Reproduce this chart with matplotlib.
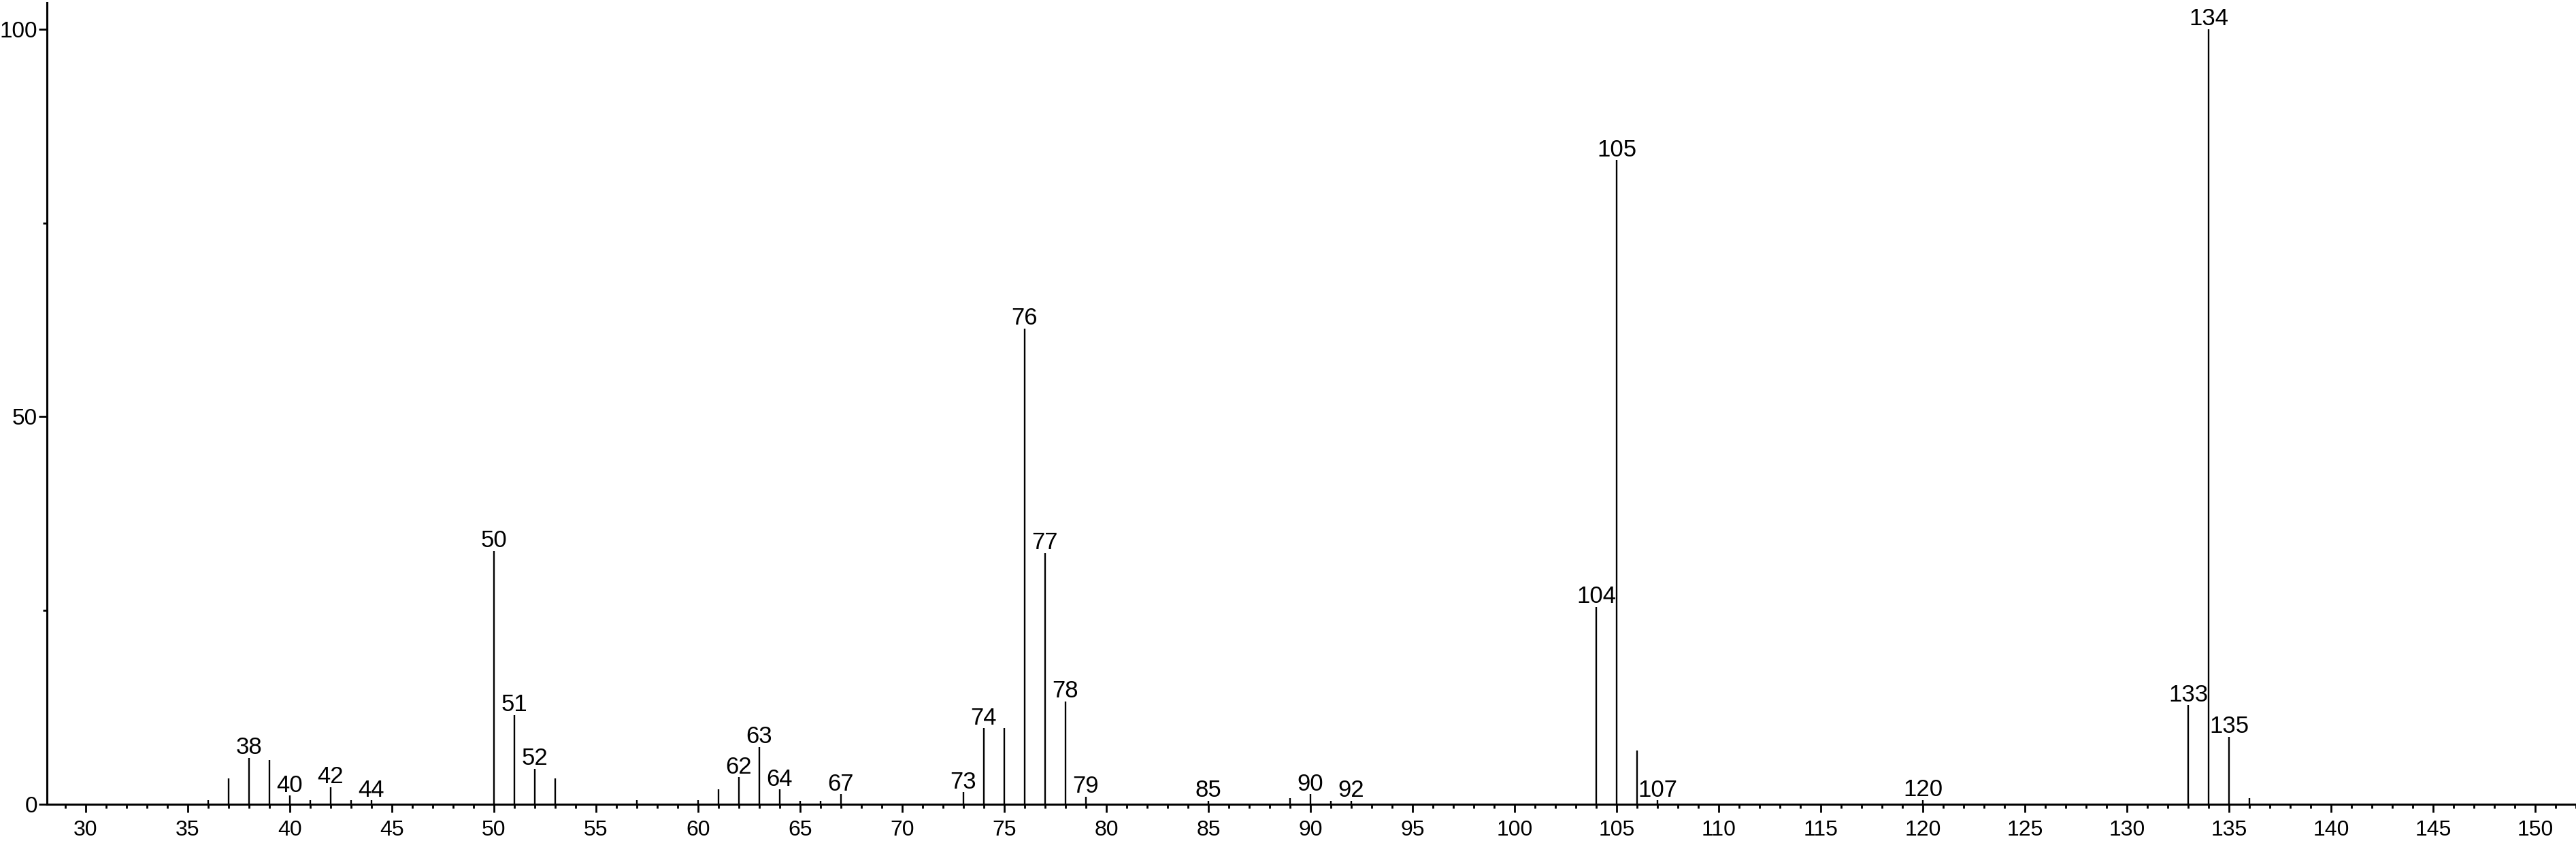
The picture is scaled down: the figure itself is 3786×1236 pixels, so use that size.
import matplotlib
matplotlib.use("Agg")
import matplotlib.pyplot as plt
from matplotlib.ticker import MultipleLocator, FixedLocator

# m/z values and relative intensities
mz = [36, 37, 38, 39, 40, 41, 42, 43, 44, 50, 51, 52, 53, 57, 60, 61, 62, 63, 64,
      65, 66, 67, 73, 74, 75, 76, 77, 78, 79, 85, 89, 90, 91, 92, 104, 105, 106,
      107, 120, 133, 134, 135, 136]
intensity = [0.5, 3.3, 6.0, 5.7, 1.1, 0.5, 2.2, 0.5, 0.5, 32.7, 11.5, 4.6, 3.3,
             0.5, 0.5, 1.9, 3.5, 7.4, 1.9, 0.45, 0.45, 1.3, 1.55, 9.8, 9.8, 61.4,
             32.4, 13.3, 1.0, 0.45, 0.8, 1.3, 0.45, 0.45, 25.5, 83.1, 6.9, 0.5,
             0.55, 12.8, 100.0, 8.7, 0.8]
labeled_mz = [38, 40, 42, 44, 50, 51, 52, 62, 63, 64, 67, 73, 74, 76, 77, 78, 79,
              85, 90, 92, 104, 105, 107, 120, 133, 134, 135]
x_ticks = list(range(30, 151, 5))
y_ticks = [0, 50, 100]

plt.rcParams['font.family'] = ['Liberation Sans', 'DejaVu Sans']

W, H = 3786, 1236
fig = plt.figure(figsize=(W / 100, H / 100), dpi=100)
ax = fig.add_axes([69 / W, 54 / H, (W - 69) / W, (1182 - 4) / H])

ax.vlines(mz, 0, intensity, colors='black', linewidth=1.7)

lookup = dict(zip(mz, intensity))
for m in labeled_mz:
    ax.annotate(str(m), xy=(m, lookup[m]), xytext=(0, 4), textcoords='offset points',
                ha='center', va='baseline', fontsize=25, color='black')

ax.set_xlim(28.1, 152.0)
ax.set_ylim(0, 103.42)

ax.spines['top'].set_visible(False)
ax.spines['right'].set_visible(False)
ax.spines['left'].set_linewidth(2.2)
ax.spines['bottom'].set_linewidth(2.2)

ax.xaxis.set_major_locator(FixedLocator(x_ticks))
ax.xaxis.set_minor_locator(MultipleLocator(1))
ax.yaxis.set_major_locator(FixedLocator(y_ticks))
ax.yaxis.set_minor_locator(FixedLocator([25, 75]))

ax.tick_params(axis='x', which='major', direction='out', length=8.5, width=2.0,
               labelsize=23, pad=8)
ax.tick_params(axis='x', which='minor', direction='out', length=4, width=2.0)
ax.tick_params(axis='y', which='major', direction='out', length=8.5, width=2.0,
               labelsize=24, pad=1.5)
ax.tick_params(axis='y', which='minor', direction='out', length=4, width=2.0)

fig.savefig("out.png", dpi=100, facecolor='white')
